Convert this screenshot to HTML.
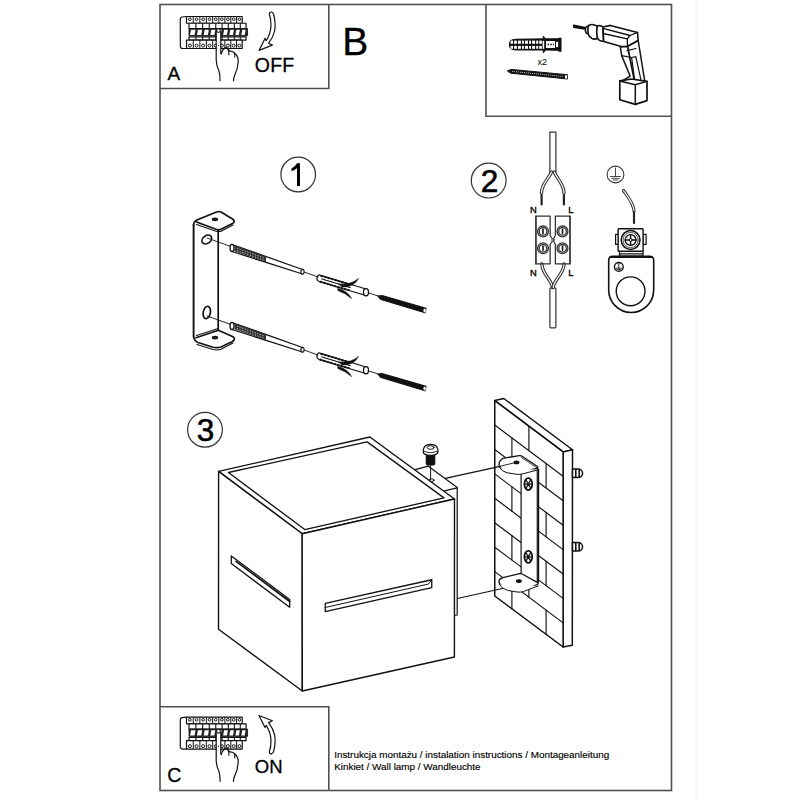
<!DOCTYPE html>
<html><head><meta charset="utf-8">
<style>
html,body{margin:0;padding:0;background:#fff;width:800px;height:800px;overflow:hidden}
svg{display:block}
text{font-family:"Liberation Sans",sans-serif;fill:#000}
</style></head><body>
<svg width="800" height="800" viewBox="0 0 800 800">
<!-- frames -->
<g fill="none" stroke="#505050" stroke-width="1.6">
<rect x="160" y="4.5" width="511.5" height="786"/>
<polyline points="160,88.5 328.8,88.5 328.8,4.5"/>
<polyline points="486,4.5 486,116.3 671.5,116.3"/>
<polyline points="160,706.8 328.8,706.8 328.8,790.5"/>
</g>
<line x1="696" y1="0" x2="696" y2="800" stroke="#f4f4f4" stroke-width="1"/>

<!-- labels -->
<text stroke="#000" stroke-width="0.3" x="167.6" y="79.7" font-size="19">A</text>
<text stroke="#000" stroke-width="0.3" x="254.8" y="71.6" font-size="19.5" letter-spacing="0.2">OFF</text>
<text stroke="#000" stroke-width="0.3" x="342.3" y="54.7" font-size="39">B</text>
<text stroke="#000" stroke-width="0.3" x="167.3" y="781.6" font-size="19.5">C</text>
<text stroke="#000" stroke-width="0.3" x="254.8" y="772.5" font-size="18.5">ON</text>
<text x="334.2" y="757.5" font-size="9.9" stroke="#000" stroke-width="0.15">Instrukcja montażu / instalation instructions / Montageanleitung</text>
<text x="334.2" y="770.4" font-size="9.9" stroke="#000" stroke-width="0.15">Kinkiet / Wall lamp / Wandleuchte</text>

<!-- circled numbers -->
<g fill="none" stroke="#333" stroke-width="1.2">
<circle cx="298.2" cy="174.5" r="17.3"/>
<circle cx="488.7" cy="180.6" r="17.4"/>
<circle cx="205" cy="429.7" r="17.4"/>
</g>
<path d="M297,163.2 L300,163.2 L300,185.9 L297,185.9 L297,168.3 Q294.5,170.3 291.5,171.3 L291.5,168.5 Q295.3,166.6 297,163.2 Z" fill="#000"/>
<text x="489.4" y="191.9" font-size="31.5" text-anchor="middle" stroke="#000" stroke-width="0.6">2</text>
<text x="205.4" y="440.9" font-size="31.5" text-anchor="middle" stroke="#000" stroke-width="0.6">3</text>

<!-- BOX A / C -->
<defs>
<g id="panel" stroke="#111" stroke-linejoin="round">
<path d="M186.5,16.5 L182,17 Q180.3,17.3 180.3,19 L180.3,46 Q180.3,48.5 183,48.5 L186.5,48.5" fill="#fff" stroke-width="1.2"/>
<rect x="186.5" y="16.5" width="55.71" height="6.75" fill="#fff" stroke-width="1.2"/>
<line x1="193.25" y1="16.5" x2="193.25" y2="23.25" stroke-width="1"/>
<line x1="199.86" y1="16.5" x2="199.86" y2="23.25" stroke-width="1"/>
<line x1="206.33" y1="16.5" x2="206.33" y2="23.25" stroke-width="1"/>
<line x1="212.66" y1="16.5" x2="212.66" y2="23.25" stroke-width="1"/>
<line x1="218.85" y1="16.5" x2="218.85" y2="23.25" stroke-width="1"/>
<line x1="224.90" y1="16.5" x2="224.90" y2="23.25" stroke-width="1"/>
<line x1="230.81" y1="16.5" x2="230.81" y2="23.25" stroke-width="1"/>
<line x1="236.58" y1="16.5" x2="236.58" y2="23.25" stroke-width="1"/>
<circle cx="189.88" cy="19.2" r="1.35" fill="#fff" stroke-width="1"/>
<circle cx="196.56" cy="19.2" r="1.35" fill="#fff" stroke-width="1"/>
<circle cx="203.10" cy="19.2" r="1.35" fill="#fff" stroke-width="1"/>
<circle cx="209.50" cy="19.2" r="1.35" fill="#fff" stroke-width="1"/>
<circle cx="215.76" cy="19.2" r="1.35" fill="#fff" stroke-width="1"/>
<circle cx="221.88" cy="19.2" r="1.35" fill="#fff" stroke-width="1"/>
<circle cx="227.86" cy="19.2" r="1.35" fill="#fff" stroke-width="1"/>
<circle cx="233.70" cy="19.2" r="1.35" fill="#fff" stroke-width="1"/>
<circle cx="239.40" cy="19.2" r="1.35" fill="#fff" stroke-width="1"/>
<rect x="189" y="23.25" width="57.06" height="5.25" fill="#fff" stroke-width="1.2"/>
<line x1="195.90" y1="23.25" x2="195.90" y2="28.5" stroke-width="1.1"/>
<line x1="202.66" y1="23.25" x2="202.66" y2="28.5" stroke-width="1.1"/>
<line x1="209.28" y1="23.25" x2="209.28" y2="28.5" stroke-width="1.1"/>
<line x1="215.76" y1="23.25" x2="215.76" y2="28.5" stroke-width="1.1"/>
<line x1="222.10" y1="23.25" x2="222.10" y2="28.5" stroke-width="1.1"/>
<line x1="228.30" y1="23.25" x2="228.30" y2="28.5" stroke-width="1.1"/>
<line x1="234.36" y1="23.25" x2="234.36" y2="28.5" stroke-width="1.1"/>
<line x1="240.28" y1="23.25" x2="240.28" y2="28.5" stroke-width="1.1"/>
<rect x="189" y="28.5" width="58.56" height="7.3" fill="#222" stroke-width="0.8"/>
<polygon points="190.00,34.9 191.00,29.7 195.50,29.7 194.50,34.9" fill="#fff" stroke="none"/>
<polygon points="196.90,34.9 197.90,29.7 202.26,29.7 201.26,34.9" fill="#fff" stroke="none"/>
<polygon points="203.66,34.9 204.66,29.7 208.88,29.7 207.88,34.9" fill="#fff" stroke="none"/>
<polygon points="210.28,34.9 211.28,29.7 215.36,29.7 214.36,34.9" fill="#fff" stroke="none"/>
<polygon points="216.76,34.9 217.76,29.7 221.70,29.7 220.70,34.9" fill="#fff" stroke="none"/>
<polygon points="223.10,34.9 224.10,29.7 227.90,29.7 226.90,34.9" fill="#fff" stroke="none"/>
<polygon points="229.30,34.9 230.30,29.7 233.96,29.7 232.96,34.9" fill="#fff" stroke="none"/>
<polygon points="235.36,34.9 236.36,29.7 239.88,29.7 238.88,34.9" fill="#fff" stroke="none"/>
<polygon points="241.28,34.9 242.28,29.7 245.66,29.7 244.66,34.9" fill="#fff" stroke="none"/>
<rect x="189" y="36.8" width="57.06" height="3.3" fill="#fff" stroke-width="1.2"/>
<line x1="195.90" y1="36.8" x2="195.90" y2="40.1" stroke-width="1.1"/>
<line x1="202.66" y1="36.8" x2="202.66" y2="40.1" stroke-width="1.1"/>
<line x1="209.28" y1="36.8" x2="209.28" y2="40.1" stroke-width="1.1"/>
<line x1="215.76" y1="36.8" x2="215.76" y2="40.1" stroke-width="1.1"/>
<line x1="222.10" y1="36.8" x2="222.10" y2="40.1" stroke-width="1.1"/>
<line x1="228.30" y1="36.8" x2="228.30" y2="40.1" stroke-width="1.1"/>
<line x1="234.36" y1="36.8" x2="234.36" y2="40.1" stroke-width="1.1"/>
<line x1="240.28" y1="36.8" x2="240.28" y2="40.1" stroke-width="1.1"/>
<rect x="186.5" y="40.1" width="55.71" height="8.4" fill="#fff" stroke-width="1.2"/>
<line x1="193.25" y1="40.1" x2="193.25" y2="48.5" stroke-width="1"/>
<line x1="199.86" y1="40.1" x2="199.86" y2="48.5" stroke-width="1"/>
<line x1="206.33" y1="40.1" x2="206.33" y2="48.5" stroke-width="1"/>
<line x1="212.66" y1="40.1" x2="212.66" y2="48.5" stroke-width="1"/>
<line x1="218.85" y1="40.1" x2="218.85" y2="48.5" stroke-width="1"/>
<line x1="224.90" y1="40.1" x2="224.90" y2="48.5" stroke-width="1"/>
<line x1="230.81" y1="40.1" x2="230.81" y2="48.5" stroke-width="1"/>
<line x1="236.58" y1="40.1" x2="236.58" y2="48.5" stroke-width="1"/>
<circle cx="189.88" cy="45.6" r="1.5" fill="#fff" stroke-width="1"/>
<circle cx="196.56" cy="45.6" r="1.5" fill="#fff" stroke-width="1"/>
<circle cx="203.10" cy="45.6" r="1.5" fill="#fff" stroke-width="1"/>
<circle cx="209.50" cy="45.6" r="1.5" fill="#fff" stroke-width="1"/>
<circle cx="215.76" cy="45.6" r="1.5" fill="#fff" stroke-width="1"/>
<circle cx="221.88" cy="45.6" r="1.5" fill="#fff" stroke-width="1"/>
<circle cx="227.86" cy="45.6" r="1.5" fill="#fff" stroke-width="1"/>
<circle cx="233.70" cy="45.6" r="1.5" fill="#fff" stroke-width="1"/>
<circle cx="239.40" cy="45.6" r="1.5" fill="#fff" stroke-width="1"/>
<rect x="216.2" y="31" width="4.6" height="24" fill="#fff" stroke="none"/>
<path d="M223,53 L233,50 L238,60 L234,81 L220,81 L216.2,60 Z" fill="#fff" stroke="none"/>
<path d="M216.2,31 L216.2,60 Q216.5,66 219,71 Q220.3,75 220,81.3" fill="none" stroke-width="1.2"/>
<path d="M220.8,31 L220.8,54" fill="none" stroke-width="1.2"/>
<path d="M221.2,54.5 Q222,50 225.3,47.6 Q227.6,47.4 228.4,49.6 Q229,51 229.9,51.2 Q233,51 235.2,53.5 Q238.6,57 238.2,62 Q237.6,70 234.6,75.5 Q233.3,78 233.5,81.3" fill="none" stroke-width="1.2"/>
<path d="M227.8,49.2 Q229.3,52 228.9,55.2 M234.3,53.3 Q235.4,55.5 234.6,57.6" fill="none" stroke-width="1.1"/>
<circle cx="218.5" cy="30.6" r="1.9" fill="#fff" stroke-width="1.1"/>
<circle cx="218.5" cy="45.6" r="0.6" fill="#111" stroke="none"/>
</g>
</defs>
<use href="#panel"/>
<use href="#panel" transform="translate(0,700.6)"/>
<path d="M269.3,14.2 Q269.5,11.8 271.6,12 Q273.2,12.3 273.8,15 Q276,24 274.6,31 Q273.3,37 268.6,43.3 L272.4,45.1 L259,50.4 L265,38.4 L266.2,40.6 Q270.5,34 271,26 Q271.2,19 269.3,14.2 Z" fill="#fff" stroke="#111" stroke-width="1.2" stroke-linejoin="round"/>
<path d="M269.3,751.7 Q269.5,754.1 271.6,753.9 Q273.2,753.6 273.8,750.9 Q276,741.9 274.6,734.9 Q273.3,728.9 268.6,722.6 L272.4,720.8 L259,715.5 L265,727.5 L266.2,725.3 Q270.5,731.9 271,739.9 Q271.2,746.9 269.3,751.7 Z" fill="#fff" stroke="#111" stroke-width="1.2" stroke-linejoin="round"/>
<!-- BOX B -->
<g id="boxb" stroke="#111" stroke-linejoin="round" stroke-linecap="round">
<!-- anchor -->
<path d="M543.6,36.5 L545.5,39.2 L543,41 Z" fill="#111" stroke-width="1"/>
<path d="M543.6,52.6 L545.5,49.8 L543,48 Z" fill="#111" stroke-width="1"/>
<path d="M510.5,41 Q512,39.5 516,39.4 L545,39 L559.5,38.8 L559.5,50.2 L545,49.9 L516,49.8 Q512,49.6 510.5,48 Q508.6,44.5 510.5,41 Z" fill="#111" stroke-width="1.3"/>
<rect x="559" y="38" width="2.2" height="13.5" fill="#111" stroke-width="0.6"/>
<rect x="510.6" y="40.6" width="2.4" height="3.2" fill="#fff" stroke="none"/>
<rect x="510.6" y="45.9" width="2.4" height="2.9" fill="#fff" stroke="none"/>
<rect x="514.1" y="40.6" width="2.7" height="3.2" fill="#fff" stroke="none"/>
<rect x="514.1" y="45.9" width="2.7" height="2.9" fill="#fff" stroke="none"/>
<rect x="517.9" y="40.6" width="3.0" height="3.2" fill="#fff" stroke="none"/>
<rect x="517.9" y="45.9" width="3.0" height="2.9" fill="#fff" stroke="none"/>
<rect x="522" y="40.6" width="1.9" height="3.2" fill="#fff" stroke="none"/>
<rect x="522" y="45.9" width="1.9" height="2.9" fill="#fff" stroke="none"/>
<rect x="525" y="40.6" width="3.0" height="3.2" fill="#fff" stroke="none"/>
<rect x="525" y="45.9" width="3.0" height="2.9" fill="#fff" stroke="none"/>
<rect x="529.1" y="40.6" width="1.9" height="3.2" fill="#fff" stroke="none"/>
<rect x="529.1" y="45.9" width="1.9" height="2.9" fill="#fff" stroke="none"/>
<rect x="532.1" y="40.6" width="3.0" height="3.2" fill="#fff" stroke="none"/>
<rect x="532.1" y="45.9" width="3.0" height="2.9" fill="#fff" stroke="none"/>
<rect x="536.2" y="40.6" width="2.0" height="3.2" fill="#fff" stroke="none"/>
<rect x="536.2" y="45.9" width="2.0" height="2.9" fill="#fff" stroke="none"/>
<rect x="539.2" y="40.6" width="2.6" height="3.2" fill="#fff" stroke="none"/>
<rect x="539.2" y="45.9" width="2.6" height="2.9" fill="#fff" stroke="none"/>
<rect x="542.6" y="40.8" width="1.6" height="8" fill="#fff" stroke="none"/>
<rect x="546" y="41" width="9" height="7" fill="#fff" stroke="none"/>
<path d="M547.5,44.5 L554,44.5" stroke="#111" stroke-width="1.6" stroke-dasharray="1.5 1.3" stroke-linecap="butt"/>
<rect x="555.8" y="41.5" width="2.8" height="6" fill="#fff" stroke="#111" stroke-width="0.8"/>
<!-- screw -->
<path d="M507.6,70.8 L511,69.4 L567.5,74.7 L567.5,79 L511,73.2 Z" fill="#111" stroke-width="1"/>
<path d="M512,71.4 L563,76.5" stroke="#fff" stroke-width="1" stroke-dasharray="0.8 1.2" stroke-linecap="butt"/>
<rect x="565" y="75.3" width="2.2" height="3.2" fill="#fff" stroke="none"/>
<!-- drill -->
<path d="M573.8,25.2 L584.5,27.6 L584.5,29 L573.8,27.2 Z" fill="#111" stroke-width="1.5"/>
<path d="M586,27 Q584.5,30 586.3,33.2 L589,34 L589,25.8 Z" fill="#fff" stroke-width="1.5"/>
<path d="M588.8,25.2 Q593,23.3 597.2,26.2 L597.5,38.3 Q593,41 588.8,35.5 Q587,30 588.8,25.2 Z" fill="#fff" stroke-width="1.6"/>
<path d="M597.2,26 Q600.5,25 603,27 L603.5,41 Q600,42 597.5,38.5 Q596,32 597.2,26 Z" fill="#fff" stroke-width="1.6"/>
<path d="M603,27 L610.3,25.4 L637.5,32.4 L638.2,40.5 L627.5,46.5 L620.5,46.2 L603.7,41.4 Z" fill="#fff" stroke-width="1.6"/>
<path d="M603,28.4 L630,35.5 L637.5,32.4 M630,35.5 L627.3,38.8 L603,33.5 M627.3,38.8 L627.5,46.5" fill="none" stroke-width="1.3"/>
<path d="M627.5,46.5 L638.2,40.5 L644.7,81 L634.5,81.5 Z" fill="#fff" stroke-width="1.5"/>
<path d="M620.3,47 L621.7,55.6 L630.2,76.2 L622.2,80.9 L634.5,81.5 L627.5,46.5 Z" fill="#fff" stroke-width="1.5"/>
<path d="M621.7,55.6 L631.6,57.5 L635.8,56.6 M631.6,57.5 L634.8,80.9 M635.8,56.6 L641.4,81.9 M627,50.6 L636,48.5" fill="none" stroke-width="1.2"/>
<path d="M619.8,80.9 L631.6,79 L647,81.4 L647,100.6 L635.3,104.4 L619.8,99.7 Z" fill="#fff" stroke-width="1.7"/>
<path d="M619.8,80.9 L635.3,84.7 L647,81.4 M635.3,84.7 L635.3,104.4" fill="none" stroke-width="1.5"/>
</g>
<text x="537.5" y="65" font-size="9">x2</text>
<!-- STEP1 -->
<g id="step1" fill="none" stroke="#111" stroke-width="1.2" stroke-linejoin="round" stroke-linecap="round">
<!-- bracket -->
<path d="M193.6,225 Q193.6,221.5 197.5,219.8 L216.5,212 Q219,211 221,212 L232.5,219 Q236,221.5 232.5,223.5 L221,229.3 Q219,230.3 216,229.3 L196.5,222" stroke-width="1.7"/>
<path d="M196.5,224.5 L216,231.3 Q218.5,232 221,231.3 L233,225" stroke-width="1.1"/>
<line x1="193.6" y1="225" x2="193.6" y2="336" stroke-width="1.9"/>
<line x1="218.2" y1="230.5" x2="218.2" y2="330" stroke-width="1.7"/>
<ellipse cx="215" cy="219.3" rx="2.6" ry="1.3" fill="#222"/>
<ellipse cx="206.8" cy="239.5" rx="5.3" ry="3.8" transform="rotate(-35 206.8 239.5)" stroke-width="1.7"/>
<path d="M193.6,336 Q193.6,340.5 198,342.5 L213,347.2 Q217,348.2 221,347 L232.5,341.5 Q236,339 233,336.8 L218.4,330.3 L196,337.8" stroke-width="1.7"/>
<path d="M218.2,328.4 L196.5,335.5" stroke-width="1.1"/>
<path d="M197,344.5 L213,349.5 Q217,350.5 221,349.3 L233,343" stroke-width="1.1"/>
<ellipse cx="215" cy="337.6" rx="2.6" ry="1.3" fill="#222"/>
<ellipse cx="206.8" cy="312.5" rx="3.6" ry="6.3" transform="rotate(10 206.8 312.5)" stroke-width="1.7"/>
</g>
<g id="set1" fill="none" stroke="#111" stroke-width="1.2" stroke-linejoin="round" stroke-linecap="round">
<!-- axis line -->
<line x1="207" y1="238" x2="231" y2="246.5" stroke-width="0.9"/>
<line x1="304" y1="272" x2="318" y2="277" stroke-width="0.9"/>
<line x1="368" y1="292.8" x2="380" y2="296.5" stroke-width="0.9"/>
<!-- rod -->
<polygon points="232,244.5 302.5,269.5 302.5,274 232,251.5" fill="#fff" stroke-width="1.3"/>
<ellipse cx="232" cy="248" rx="2" ry="3.6" fill="#fff" stroke-width="1.3"/>
<ellipse cx="302.5" cy="271.75" rx="1.6" ry="2.4" fill="#fff" stroke-width="1.1"/>
<polygon points="234.5,245.3 266,256.5 266,262.3 234.5,251.3" fill="#333" stroke="none"/><path d="M237,248.2 L265,258.2 M237,250.6 L265,260.6" stroke="#fff" stroke-width="0.7" stroke-dasharray="1.2 1.5" stroke-linecap="butt"/>
<!-- plug -->
<path d="M320,275 L366,289 L366,295.5 L320,282 Q316.5,280.5 317,278 Q318,274 320,275 Z" fill="#fff" stroke-width="1.3"/>
<ellipse cx="366" cy="292.2" rx="2.5" ry="3.6" fill="#fff" stroke-width="1.3"/>
<path d="M321,275.8 L349,284.3 M320.5,281.7 L349,290.2" stroke="#111" stroke-width="1.8" stroke-dasharray="1.6 2"/>
<line x1="322" y1="279" x2="350" y2="287.5" stroke-width="1.3"/>
<path d="M339,284 Q351,285 358.5,278.5 Q354,287.5 342,287 Z" fill="#111" stroke-width="0.6"/>
<path d="M338,288.5 Q348,291 351.5,298.5 Q345,293 338,290.5 Z" fill="#111" stroke-width="0.6"/>
<!-- screw -->
<polygon points="378,296.2 382,295.5 426,308.3 425,312.8 381,299.5" fill="#111" stroke-width="1.2"/>
<ellipse cx="424.6" cy="310.5" rx="1.2" ry="1.9" fill="#fff" stroke="none"/>
</g>
<use href="#set1" transform="translate(0,78)"/>
<!-- STEP2 -->
<g id="step2" fill="none" stroke="#333" stroke-width="1.2" stroke-linejoin="round" stroke-linecap="round">
<rect x="549.9" y="132.2" width="6" height="40" fill="#fff"/>
<rect x="549.9" y="287.8" width="6" height="40" rx="1" fill="#fff"/>
<!-- upper wires (double line) -->
<path d="M551.5,172 C548,180 541.5,184 541.5,193" stroke-width="3.4"/>
<path d="M551.5,172 C548,180 541.5,184 541.5,193" stroke="#fff" stroke-width="1.2"/>
<path d="M554.3,172 C557.5,180 564,184 564,193" stroke-width="3.4"/>
<path d="M554.3,172 C557.5,180 564,184 564,193" stroke="#fff" stroke-width="1.2"/>
<line x1="541.6" y1="195" x2="541.6" y2="204.5" stroke="#222" stroke-width="2.2"/>
<line x1="563.9" y1="195" x2="563.9" y2="204.5" stroke="#222" stroke-width="2.2"/>
<!-- lower wires -->
<path d="M541.9,264 C541.9,274 552,280 552.5,287.5" stroke-width="3.4"/>
<path d="M541.9,264 C541.9,274 552,280 552.5,287.5" stroke="#fff" stroke-width="1.2"/>
<path d="M564,264 C564,274 553.5,280 553.2,287.5" stroke-width="3.4"/>
<path d="M564,264 C564,274 553.5,280 553.2,287.5" stroke="#fff" stroke-width="1.2"/>
<!-- blocks -->
<polyline points="535.9,263.8 535.9,216.2 550.1,216.2 550.1,235.5 552.1,238.5" fill="#fff" stroke-width="1.3"/><polyline points="552.1,241.5 550.1,244.5 550.1,263.8 535.9,263.8" stroke-width="1.3"/>
<polyline points="570,263.8 570,216.2 555.4,216.2 555.4,235.5 553.7,238.5" fill="#fff" stroke-width="1.3"/><polyline points="553.7,241.5 555.4,244.5 555.4,263.8 570,263.8" stroke-width="1.3"/>
<line x1="535.9" y1="216.2" x2="535.9" y2="263.8" stroke-width="1.3"/>
<line x1="570" y1="216.2" x2="570" y2="263.8" stroke-width="1.3"/>
<circle cx="552.9" cy="240" r="1.2" stroke-width="0.9"/>
<g stroke-width="1.3">
<circle cx="543" cy="231.4" r="5.4"/><circle cx="543" cy="231.4" r="3.8"/>
<circle cx="562.5" cy="231.4" r="5.4"/><circle cx="562.5" cy="231.4" r="3.8"/>
<circle cx="543" cy="248.3" r="5.4"/><circle cx="543" cy="248.3" r="3.8"/>
<circle cx="562.5" cy="248.3" r="5.4"/><circle cx="562.5" cy="248.3" r="3.8"/>
</g>
<g stroke="#111" stroke-width="1.6">
<line x1="543" y1="229.4" x2="543" y2="233.4"/><line x1="562.5" y1="229.4" x2="562.5" y2="233.4"/>
<line x1="543" y1="246.3" x2="543" y2="250.3"/><line x1="562.5" y1="246.3" x2="562.5" y2="250.3"/>
</g>
<!-- earth -->
<circle cx="615.5" cy="174.5" r="8.4" stroke-width="1.1"/>
<path d="M615.5,168 L615.5,176.5 M610.5,176.5 L620.5,176.5 M611.8,178.3 L619.2,178.3 M613.2,180 L617.8,180" stroke-width="0.9"/>
<path d="M623.5,190.5 C628,197 633.5,203 634,211" stroke-width="3.2"/>
<path d="M623.5,190.5 C628,197 633.5,203 634,211" stroke="#fff" stroke-width="1.1"/>
<line x1="634" y1="212" x2="634" y2="223" stroke="#222" stroke-width="2.2" stroke-dasharray="1.2 0.6"/>
<!-- ring lug -->
<path d="M608.7,260.5 Q608.7,256.3 612.8,256.3 L649.6,256.3 Q653.7,256.3 653.7,260.5 L653.7,290 A22.5,22.5 0 0 1 608.7,290 Z" fill="#fff" stroke="#111" stroke-width="1.6"/>
<line x1="610" y1="257.3" x2="652.4" y2="257.3" stroke="#111" stroke-width="1.4"/>
<circle cx="630.6" cy="291.3" r="14.4" stroke="#111" stroke-width="1.4"/>
<circle cx="618.8" cy="266.9" r="4.4" stroke="#111" stroke-width="1.4"/>
<path d="M618.8,263.3 L618.8,268.2 M616,268.2 L621.6,268.2 M617,269.6 L620.6,269.6" stroke="#111" stroke-width="0.9"/>
<!-- terminal -->
<rect x="619.5" y="251.3" width="23.5" height="4.6" fill="#fff" stroke="#111" stroke-width="1.2"/>
<line x1="619.5" y1="253.8" x2="643" y2="253.8" stroke="#111" stroke-width="1.2"/>
<rect x="615.6" y="234.4" width="3" height="10" fill="#fff" stroke="#111" stroke-width="1.2"/>
<rect x="643.1" y="234.4" width="3" height="10" fill="#fff" stroke="#111" stroke-width="1.2"/>
<rect x="618.1" y="228.7" width="25" height="22.6" rx="0.8" fill="#fff" stroke="#111" stroke-width="1.4"/>
<circle cx="630.6" cy="240" r="9.4" stroke="#111" stroke-width="1.5"/>
<circle cx="630.6" cy="240" r="7.6" stroke="#555" stroke-width="1"/>
<circle cx="630.6" cy="240" r="5.4" stroke="#111" stroke-width="1.4"/>
<circle cx="630.6" cy="240" r="1.6" stroke="#111" stroke-width="0.9"/>
<path d="M630.6,234.6 L630.6,238.3 M630.6,241.7 L630.6,245.4 M625.2,240 L628.9,240 M632.3,240 L636,240" stroke="#111" stroke-width="1.4"/>
</g>
<text x="530" y="213" font-size="9.3" stroke="#000" stroke-width="0.35">N</text>
<text x="568.3" y="213" font-size="9.3" stroke="#000" stroke-width="0.35">L</text>
<text x="530" y="276.1" font-size="9.3" stroke="#000" stroke-width="0.35">N</text>
<text x="568.3" y="276.1" font-size="9.3" stroke="#000" stroke-width="0.35">L</text>
<!-- STEP3 -->
<g id="step3" fill="none" stroke="#111" stroke-width="1.2" stroke-linejoin="round" stroke-linecap="round">
<!-- wall -->
<polygon points="494.75,400.6 503.75,398.5 572.5,449.75 563.1,451.9" fill="#fff" stroke-width="1.5"/>
<polygon points="563.1,451.9 572.5,449.75 572.3,645.3 563.1,647" fill="#fff" stroke-width="1.5"/>
<polygon points="494.75,400.6 563.1,451.9 563.1,647 494.75,596" fill="#fff" stroke-width="1.5"/>
<g stroke-width="1.15">
<line x1="494.75" y1="425.0" x2="563.1" y2="476.3"/>
<line x1="494.75" y1="449.5" x2="563.1" y2="500.7"/>
<line x1="494.75" y1="473.9" x2="563.1" y2="525.2"/>
<line x1="494.75" y1="498.3" x2="563.1" y2="549.6"/>
<line x1="494.75" y1="522.8" x2="563.1" y2="574.0"/>
<line x1="494.75" y1="547.2" x2="563.1" y2="598.4"/>
<line x1="494.75" y1="571.6" x2="563.1" y2="622.9"/>
<line x1="528.9" y1="426.2" x2="528.9" y2="450.6"/>
<line x1="511.9" y1="437.9" x2="511.9" y2="462.3"/>
<line x1="546.1" y1="463.5" x2="546.1" y2="488.0"/>
<line x1="528.9" y1="475.1" x2="528.9" y2="499.5"/>
<line x1="511.9" y1="486.8" x2="511.9" y2="511.2"/>
<line x1="546.1" y1="512.4" x2="546.1" y2="536.8"/>
<line x1="528.9" y1="523.9" x2="528.9" y2="548.4"/>
<line x1="511.9" y1="535.6" x2="511.9" y2="560.0"/>
<line x1="546.1" y1="561.3" x2="546.1" y2="585.7"/>
<line x1="528.9" y1="572.8" x2="528.9" y2="597.2"/>
<line x1="511.9" y1="584.5" x2="511.9" y2="608.9"/>
<line x1="546.1" y1="610.1" x2="546.1" y2="634.5"/>
</g>
<!-- bolts on wall side -->
<g fill="#fff" stroke-width="1.5">
<path d="M572.5,469 L578,469 A4.6,4.3 0 0 1 578,477.6 L572.5,477.6 Z"/>
<line x1="575.8" y1="469.5" x2="575.8" y2="477" stroke-width="1.6"/><line x1="579.2" y1="469.5" x2="579.2" y2="477" stroke-width="1.6"/>
<path d="M572.5,542.5 L578,542.5 A4.6,4.3 0 0 1 578,551.1 L572.5,551.1 Z"/>
<line x1="575.8" y1="543" x2="575.8" y2="550.5" stroke-width="1.6"/><line x1="579.2" y1="543" x2="579.2" y2="550.5" stroke-width="1.6"/>
</g>
<!-- wall bracket -->
<g fill="#fff" stroke-width="1.2">
<rect x="521.1" y="468" width="16.2" height="115"/>
<line x1="538.6" y1="469" x2="538.6" y2="582"/>
<path d="M503,458.3 L519.3,455.6 Q521,455.4 522.5,456.5 L537,466.3 Q539,467.8 536.5,468.5 L522,472 Q519.5,472.6 516,472.2 L507,470.8 Q500.5,469 499.2,465.5 Q498.3,461.5 503,458.3 Z" stroke-width="1.3"/>
<path d="M499.6,467.5 Q501.5,471.3 507,472.8 L516,474.2 Q519.5,474.6 522,474 L538.3,469.8" stroke-width="1"/>
<path d="M521.5,457.5 L537.5,468.3" stroke-width="0.8"/>
<ellipse cx="516.5" cy="462.4" rx="2.3" ry="1.3" fill="#111"/>
<line x1="500" y1="466.3" x2="516" y2="462.4" stroke-width="0.9"/>
<path d="M520.8,573.3 L503,577.6 Q498.5,579 499,582.3 Q500.5,586 507.5,588.2 L517,589.8 Q520,590.3 523.5,589.3 L536.5,584.8 Q539.5,583.3 537.3,582.4 Z" stroke-width="1.3"/>
<path d="M499.4,584.5 Q501.5,588.5 507.5,590.4 L517,592 Q520,592.5 523.5,591.5 L538.3,585.8" stroke-width="1"/>
<ellipse cx="518.9" cy="581.1" rx="2.4" ry="1.3" fill="#111"/>
<ellipse cx="528.3" cy="484.1" rx="3.9" ry="6" stroke-width="1.8"/>
<path d="M526.3,480.5 L530.3,487.7 M530.3,480.5 L526.3,487.7 M525.5,484.1 L531.1,484.1" stroke-width="1.3"/>
<ellipse cx="528.3" cy="556.8" rx="3.9" ry="6" stroke-width="1.8"/>
<path d="M526.3,553.2 L530.3,560.4 M530.3,553.2 L526.3,560.4 M525.5,556.8 L531.1,556.8" stroke-width="1.3"/>
</g>
<!-- bar lines -->
<line x1="445.3" y1="478.3" x2="500" y2="466.4"/>
<line x1="457.3" y1="598.5" x2="502.5" y2="588.5"/>
<!-- plate behind cube -->
<polygon points="414.5,469.9 428,466.1 457.2,487.6 457.2,615 444,615.5 444.75,490.75" fill="#fff" stroke="none"/><polyline points="414.5,469.9 428,466.1 457.2,487.6 457.2,615 454,615.5"/><line x1="444.5" y1="490.9" x2="457.2" y2="487.8"/>
<!-- screw -->
<line x1="430.6" y1="462" x2="430.6" y2="480" stroke-width="1"/>
<ellipse cx="431.6" cy="480.2" rx="2.4" ry="1.4" stroke-width="1"/>
<rect x="426.3" y="454" width="8.4" height="11" rx="1.5" fill="#111"/>
<path d="M423.2,451.5 Q423,444.5 430.6,444.3 Q438.2,444.5 438,451.5 Q438,455.3 430.6,455.3 Q423.2,455.3 423.2,451.5 Z" fill="#fff" stroke-width="1.3"/>
<path d="M423.5,451 Q430.6,454.5 437.7,451" stroke-width="0.9"/>
<ellipse cx="430.6" cy="447.5" rx="3.5" ry="1.8" stroke-width="1"/>
<!-- cube -->
<polygon points="218.6,471.4 369.9,437 454.5,499 302.2,533.7" fill="#fff" stroke-width="1.4"/>
<polygon points="218.6,471.4 302.2,533.7 302.3,691 218.5,629.3" fill="#fff" stroke-width="1.4"/>
<polygon points="302.2,533.7 454.5,499 454.4,657 302.3,691" fill="#fff" stroke-width="1.4"/>
<polygon points="228.5,472.5 367.1,441.9 444,497.9 304.75,529.6" stroke-width="1.3"/>
<!-- slots -->
<polygon points="231.3,555.9 289.7,599.4 289.7,607.3 231.3,563.6" stroke-width="1.3"/>
<line x1="236" y1="561.3" x2="289.7" y2="601.5" stroke-width="1.6"/>
<polygon points="325.25,603.3 431.75,579.75 431.75,587.7 325.25,611.7" stroke-width="1.3"/>
<polyline points="325.25,607.5 428.5,584 431.75,580" stroke-width="1"/>
</g>
</svg>
</body></html>
